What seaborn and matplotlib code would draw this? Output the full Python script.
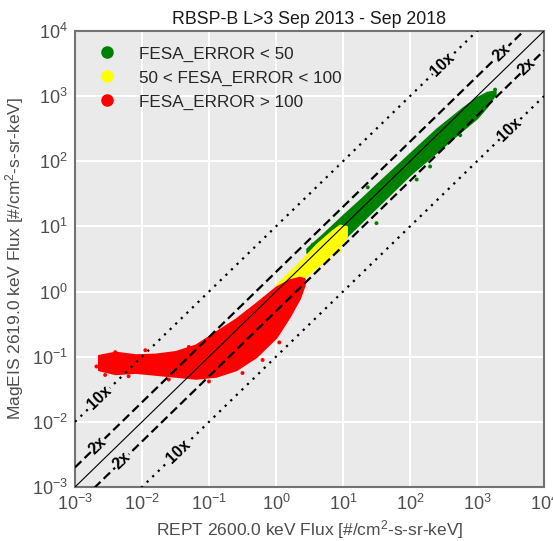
import numpy as np
import pandas as pd
import matplotlib
matplotlib.use("Agg")
import matplotlib.pyplot as plt
import seaborn as sns

# %%
# Cloud envelopes (log10 units)
green_logx = [0.46, 0.7, 1.0, 1.3, 1.6, 2.0, 2.4, 2.8, 3.0, 3.15, 3.27]
green_upper = [0.66, 0.88, 1.17, 1.45, 1.74, 2.12, 2.5, 2.83, 2.98, 3.06, 3.08]
green_lower = [0.6, 0.6, 0.8, 1.1, 1.4, 1.8, 2.15, 2.5, 2.67, 2.85, 3.03]

yellow_logx = [0.0, 0.2, 0.4, 0.6, 0.8, 0.95, 1.05]
yellow_upper = [0.1, 0.3, 0.5, 0.72, 0.9, 1.02, 1.0]
yellow_lower = [-0.05, 0.05, 0.2, 0.38, 0.55, 0.7, 0.85]

red_logx = [-2.65, -2.4, -2.1, -1.8, -1.5, -1.2, -0.9, -0.6, -0.3, 0.0, 0.2, 0.35, 0.42]
red_upper = [-0.98, -0.93, -0.97, -0.96, -0.92, -0.82, -0.62, -0.42, -0.18, 0.07, 0.18, 0.22, 0.2]
red_lower = [-1.2, -1.26, -1.24, -1.27, -1.3, -1.33, -1.3, -1.2, -1.0, -0.7, -0.38, -0.1, 0.1]

# scattered points at the cloud edges (log10 units)
stray_logx = [1.37, 3.27, 1.5, 2.3, 0.55, 2.1, 2.75,
              0.85, 0.92, 1.0, 0.95,
              -2.62, -2.55, -2.4, -2.2, -1.95, -1.6, -1.0, -0.5, 0.05, -2.68, -1.3, -0.2]
stray_logy = [1.6, 3.1, 1.05, 1.92, 0.72, 1.72, 2.4,
              0.91, 0.92, 0.75, 0.62,
              -1.05, -1.28, -0.93, -1.3, -0.9, -1.35, -1.38, -1.25, -0.78, -1.15, -0.85, -1.05]
stray_cat = (["FESA_ERROR < 50"] * 7 + ["50 < FESA_ERROR < 100"] * 4
             + ["FESA_ERROR > 100"] * 12)

categories = ["FESA_ERROR < 50", "50 < FESA_ERROR < 100", "FESA_ERROR > 100"]
colors = ["green", "yellow", "red"]

ratio_labels = [
    # (ratio, text, log x position)
    (10, "10x", -2.63), (2, "2x", -2.66), (0.5, "2x", -2.3), (0.1, "10x", -1.46),
    (10, "10x", 2.49), (2, "2x", 3.37), (0.5, "2x", 3.75), (0.1, "10x", 3.49),
]

# %%
sns.set_style("darkgrid", {"axes.facecolor": "#EAEAEA", "axes.edgecolor": "0.45",
                           "grid.color": "white"})
plt.rcParams["font.family"] = ["Liberation Sans", "DejaVu Sans"]
plt.rcParams["mathtext.default"] = "regular"

fig = plt.figure(figsize=(5.53, 5.41), dpi=100)
ax = fig.add_axes([0.1356, 0.0998, 0.8481, 0.8429])

for lx, up, lo, c in [(green_logx, green_upper, green_lower, colors[0]),
                      (yellow_logx, yellow_upper, yellow_lower, colors[1]),
                      (red_logx, red_upper, red_lower, colors[2])]:
    ax.fill_between(10 ** np.array(lx), 10 ** np.array(lo), 10 ** np.array(up),
                    color=c, linewidth=1.5, edgecolor=c, zorder=2)

strays = pd.DataFrame({"x": 10 ** np.array(stray_logx), "y": 10 ** np.array(stray_logy),
                       "cat": stray_cat})
sns.scatterplot(data=strays, x="x", y="y", hue="cat", hue_order=categories,
                palette=colors, s=8, linewidth=0, ax=ax, zorder=2)

xs = np.array([1e-3, 1e4])
ax.plot(xs, xs, color="black", lw=0.8, zorder=3)
for r in [2, 0.5]:
    ax.plot(xs, xs * r, color="black", lw=1.6, linestyle=(0, (4, 2)), zorder=3)
for r in [10, 0.1]:
    ax.plot(xs, xs * r, color="black", lw=1.6, linestyle=(0, (1, 2.5)), zorder=3)

for r, t, lx in ratio_labels:
    x = 10 ** lx
    ax.text(x, x * r, t, rotation=44, ha="center", va="center", fontsize=11.5,
            fontweight="bold", color="black", zorder=4,
            bbox=dict(facecolor="#EAEAEA", edgecolor="none", pad=0.5))

ax.set_xscale("log")
ax.set_yscale("log")
ax.set_xlim(1e-3, 1e4)
ax.set_ylim(1e-3, 1e4)
ax.minorticks_off()
ax.grid(True, which="major", color="white", lw=1.5)
for s in ax.spines.values():
    s.set_visible(True)
    s.set_linewidth(1.5)
    s.set_color("0.45")

ax.tick_params(axis="both", labelsize=13, labelcolor="0.3", length=0, pad=5)
ax.set_xlabel("REPT 2600.0 keV Flux [#/cm$^2$-s-sr-keV]", fontsize=12.5, color="0.3",
              labelpad=3)
ax.set_ylabel("MagEIS 2619.0 keV Flux [#/cm$^2$-s-sr-keV]", fontsize=12.5, color="0.3",
              labelpad=4)
ax.set_title("RBSP-B L>3 Sep 2013 - Sep 2018", fontsize=12.8, color="0.1", pad=5)

ax.legend(loc="upper left", frameon=False, fontsize=12.3, markerscale=3.2,
          labelspacing=0.52, handletextpad=0.85, borderaxespad=0.5, title=None)

plt.savefig("out.png", dpi=100)
